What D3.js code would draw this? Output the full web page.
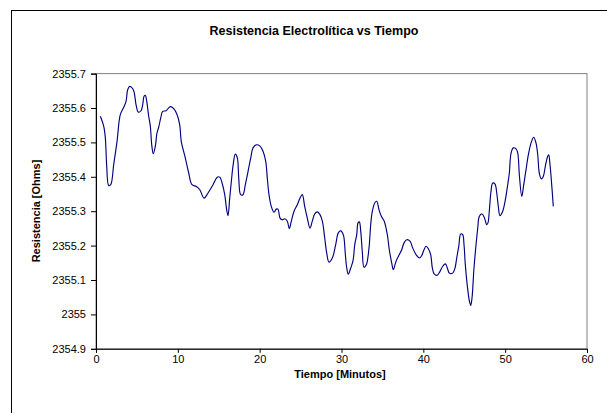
<!DOCTYPE html>
<html>
<head>
<meta charset="utf-8">
<script src="https://cdn.jsdelivr.net/npm/d3@7"></script>
<style>
html,body{margin:0;padding:0;background:#fff;}
svg{display:block;}
text{font-family:"Liberation Sans",Arial,sans-serif;fill:#000;}
</style>
</head>
<body>
<svg id="chart" width="607" height="413"></svg>
<script>
const titleText = "Resistencia Electrolítica vs Tiempo";
const xTitle = "Tiempo [Minutos]";
const yTitle = "Resistencia [Ohms]";
const xTicks = [0, 10, 20, 30, 40, 50, 60];
const yTicks = [2354.9, 2355, 2355.1, 2355.2, 2355.3, 2355.4, 2355.5, 2355.6, 2355.7];

const tiempo = [0.53,0.94,1.14,1.31,1.55,1.80,2.16,2.57,2.97,3.39,3.67,3.87,4.12,4.49,4.68,4.89,5.17,5.50,5.71,5.87,
6.03,6.20,6.44,6.64,6.81,7.00,7.25,7.45,7.66,7.91,8.15,8.55,9.08,9.50,9.90,10.23,10.42,10.91,11.33,11.73,
12.26,12.67,13.20,13.69,14.30,14.82,15.12,15.44,15.73,15.97,16.13,16.34,16.54,16.74,17.02,17.27,17.44,17.68,17.96,18.25,
18.58,18.91,19.19,19.59,20.01,20.41,20.74,20.93,21.14,21.42,21.75,22.03,22.24,22.49,22.77,23.06,23.38,23.62,23.87,24.20,
24.60,24.93,25.21,25.50,25.82,26.15,26.43,26.73,27.05,27.37,27.66,27.95,28.19,28.47,28.88,29.29,29.61,29.90,30.22,30.47,
30.64,30.83,31.13,31.41,31.62,31.86,32.02,32.18,32.35,32.54,32.75,33.03,33.36,33.57,33.77,34.06,34.30,34.59,34.87,35.20,
35.60,35.84,36.14,36.33,36.66,37.07,37.36,37.64,37.97,38.37,38.70,39.11,39.51,39.80,40.08,40.33,40.61,40.90,41.10,41.34,
41.71,42.04,42.37,42.69,42.93,43.18,43.59,43.87,44.08,44.33,44.57,44.81,44.97,45.13,45.38,45.62,45.79,45.95,46.19,46.52,
46.65,46.84,47.17,47.45,47.75,47.90,48.06,48.27,48.48,48.76,48.97,49.16,49.37,49.70,50.02,50.31,50.51,50.72,51.00,51.33,
51.54,51.73,52.03,52.27,52.55,52.83,53.16,53.49,53.77,53.98,54.17,54.42,54.66,54.91,55.20,55.32,55.48,55.72,55.88];

const resistencia = [2355.576,2355.547,2355.513,2355.431,2355.375,2355.377,2355.435,2355.503,2355.581,2355.602,2355.619,2355.653,2355.663,2355.656,2355.644,2355.610,2355.588,2355.592,2355.610,2355.634,
2355.637,2355.619,2355.576,2355.547,2355.493,2355.467,2355.489,2355.527,2355.544,2355.571,2355.590,2355.592,2355.604,2355.598,2355.581,2355.551,2355.503,2355.455,2355.411,2355.377,
2355.372,2355.363,2355.338,2355.353,2355.377,2355.399,2355.399,2355.379,2355.348,2355.304,2355.287,2355.338,2355.387,2355.431,2355.466,2355.455,2355.397,2355.348,2355.348,2355.377,
2355.416,2355.455,2355.484,2355.493,2355.490,2355.474,2355.445,2355.397,2355.348,2355.314,2355.297,2355.306,2355.306,2355.280,2355.275,2355.278,2355.271,2355.249,2355.271,2355.300,
2355.319,2355.338,2355.348,2355.314,2355.280,2355.251,2355.271,2355.292,2355.298,2355.290,2355.271,2355.222,2355.179,2355.152,2355.164,2355.203,2355.237,2355.243,2355.232,2355.174,
2355.135,2355.117,2355.135,2355.156,2355.203,2355.232,2355.266,2355.269,2355.242,2355.183,2355.137,2355.144,2355.193,2355.261,2355.300,2355.324,2355.329,2355.304,2355.285,2355.272,
2355.232,2355.188,2355.149,2355.130,2355.154,2355.174,2355.188,2355.208,2355.217,2355.213,2355.193,2355.174,2355.164,2355.171,2355.188,2355.198,2355.191,2355.174,2355.135,2355.117,
2355.114,2355.125,2355.140,2355.147,2355.135,2355.120,2355.120,2355.135,2355.164,2355.198,2355.234,2355.232,2355.203,2355.144,2355.082,2355.040,2355.026,2355.048,2355.135,2355.222,
2355.251,2355.285,2355.292,2355.282,2355.261,2355.266,2355.300,2355.358,2355.382,2355.379,2355.353,2355.314,2355.287,2355.300,2355.333,2355.377,2355.411,2355.469,2355.484,2355.481,
2355.469,2355.406,2355.343,2355.377,2355.421,2355.464,2355.498,2355.515,2355.498,2355.464,2355.411,2355.394,2355.401,2355.431,2355.460,2355.464,2355.435,2355.367,2355.314];

const data = tiempo.map((t, i) => ({t, r: resistencia[i]}));

const svg = d3.select("#chart");
const plot = {left: 96, right: 587, top: 73.6, bottom: 348.8};

// outer chart border
svg.append("rect").attr("x", 11.5).attr("y", 10.5).attr("width", 640).attr("height", 440)
  .attr("fill", "#fff").attr("stroke", "#000").attr("stroke-width", 1);

const x = d3.scaleLinear().domain([0, 60]).range([plot.left, plot.right]);
const y = d3.scaleLinear().domain([2354.9, 2355.7]).range([plot.bottom, plot.top]);

// plot area border (gray)
svg.append("rect").attr("x", plot.left).attr("y", plot.top)
  .attr("width", plot.right - plot.left).attr("height", plot.bottom - plot.top)
  .attr("fill", "#fff").attr("stroke", "#808080").attr("stroke-width", 1);

// axes
const xAxis = d3.axisBottom(x).tickValues(xTicks).tickSize(4).tickPadding(2).tickFormat(d3.format("d"));
const yAxis = d3.axisLeft(y).tickValues(yTicks).tickSize(5).tickPadding(5).tickFormat(d => +d.toFixed(1) + "");

const gx = svg.append("g").attr("transform", `translate(0,${plot.bottom})`).call(xAxis);
const gy = svg.append("g").attr("transform", `translate(${plot.left},0)`).call(yAxis);
[gx, gy].forEach(g => {
  g.select(".domain").attr("stroke", "#000");
  g.selectAll(".tick line").attr("stroke", "#000");
  g.selectAll("text").style("font-size", "11px").style("font-family", '"Liberation Sans",Arial,sans-serif').attr("fill", "#000");
});

// line
const line = d3.line().x(d => x(d.t)).y(d => y(d.r)).curve(d3.curveCatmullRom.alpha(0.5));
svg.append("path").datum(data).attr("d", line)
  .attr("fill", "none").attr("stroke", "#000080").attr("stroke-width", 1.15);

// titles
svg.append("text").attr("x", 314).attr("y", 35).attr("text-anchor", "middle")
  .style("font-size", "12.5px").style("font-weight", "bold").text(titleText);
svg.append("text").attr("x", 340).attr("y", 378).attr("text-anchor", "middle")
  .style("font-size", "11px").style("font-weight", "bold").text(xTitle);
svg.append("text").attr("transform", "translate(40,211) rotate(-90)").attr("text-anchor", "middle")
  .style("font-size", "11px").style("font-weight", "bold").text(yTitle);
</script>
</body>
</html>
